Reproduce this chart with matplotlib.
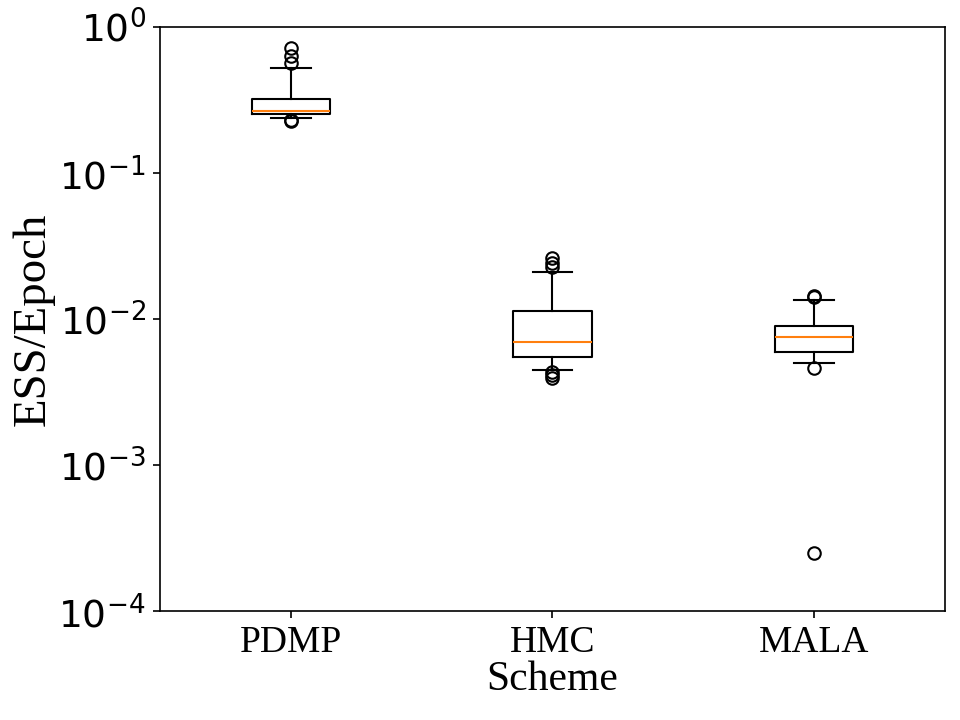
import matplotlib
matplotlib.use("Agg")
import matplotlib.pyplot as plt
from matplotlib.ticker import NullLocator

plt.rcParams['font.family'] = 'Liberation Serif'

schemes = ['PDMP', 'HMC', 'MALA']

# box statistics (ESS per epoch)
medians = [0.268, 0.00692, 0.00757]
q1s = [0.2535, 0.00552, 0.00599]
q3s = [0.319, 0.0114, 0.00898]
whislo = [0.240, 0.00448, 0.00503]
whishi = [0.528, 0.0211, 0.01349]
fliers = [
    [0.718, 0.633, 0.567, 0.227, 0.232],
    [0.0262, 0.0242, 0.0227, 0.00434, 0.00413, 0.00394],
    [0.01446, 0.01415, 0.00462, 0.000249],
]

stats = []
for i in range(len(schemes)):
    stats.append({
        'label': schemes[i],
        'med': medians[i],
        'q1': q1s[i],
        'q3': q3s[i],
        'whislo': whislo[i],
        'whishi': whishi[i],
        'fliers': fliers[i],
    })

fig = plt.figure(figsize=(6.4, 4.8), dpi=150)
ax = fig.add_axes([0.167, 0.151, 0.817, 0.8115])
ax.bxp(stats, widths=0.3)
ax.set_yscale('log')
ax.set_ylim(1e-4, 1e0)
ax.yaxis.set_minor_locator(NullLocator())

ax.set_xlabel('Scheme', fontsize=20, labelpad=0)
ax.set_ylabel('ESS/Epoch', fontsize=22.5, labelpad=2)
ax.tick_params(axis='x', labelsize=18)
ax.tick_params(axis='y', labelsize=18)
for lab in ax.get_yticklabels():
    lab.set_fontfamily('DejaVu Sans')

fig.savefig('out.png', dpi=150)
